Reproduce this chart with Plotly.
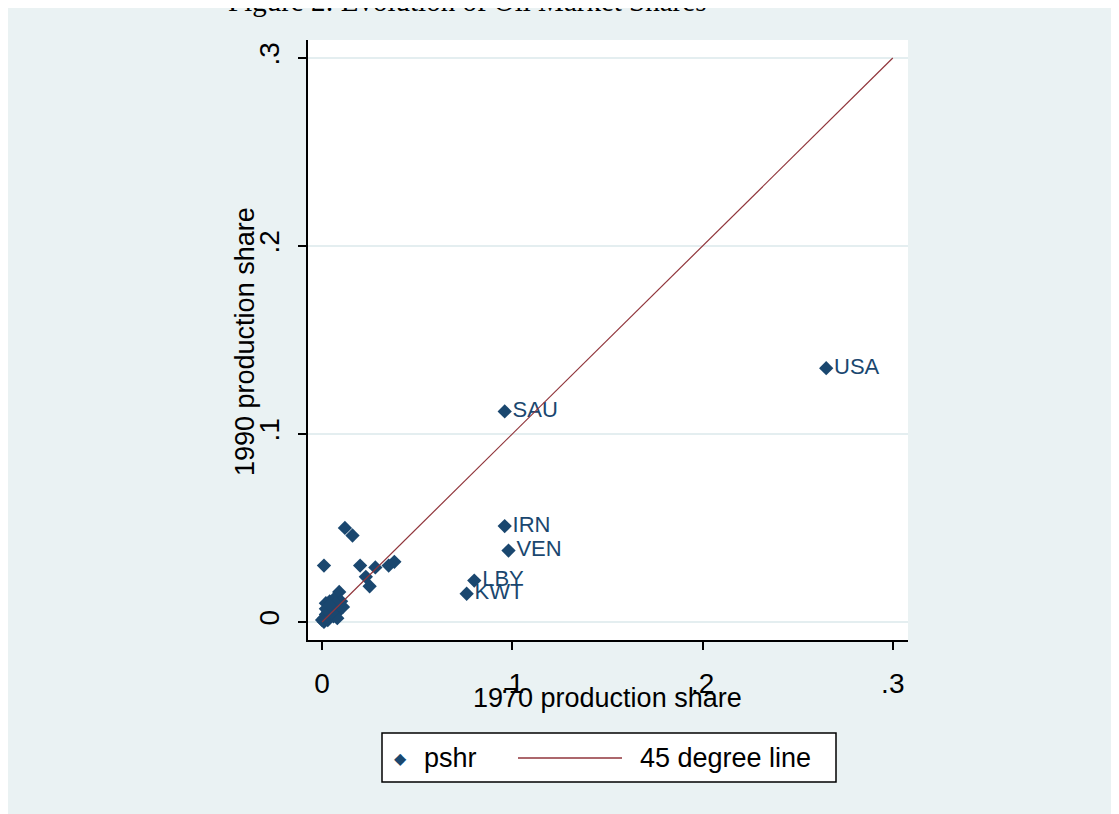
import plotly.graph_objects as go

# 1970 and 1990 production shares
labels = ["USA", "SAU", "IRN", "VEN", "LBY", "KWT"]
share_1970_lab = [0.265, 0.096, 0.096, 0.098, 0.080, 0.076]
share_1990_lab = [0.135, 0.112, 0.051, 0.038, 0.022, 0.015]

share_1970_other = [0.012, 0.016, 0.001, 0.020, 0.023, 0.025, 0.028, 0.035, 0.038,
                    0.009, 0.000, 0.001, 0.002, 0.003, 0.004, 0.005, 0.002, 0.004,
                    0.006, 0.007, 0.008, 0.009, 0.010, 0.001, 0.003, 0.006, 0.008,
                    0.011, 0.005, 0.002, 0.007, 0.004]
share_1990_other = [0.050, 0.046, 0.030, 0.030, 0.024, 0.019, 0.029, 0.030, 0.032,
                    0.016, 0.001, 0.002, 0.004, 0.006, 0.003, 0.008, 0.010, 0.011,
                    0.012, 0.007, 0.005, 0.009, 0.011, 0.000, 0.001, 0.003, 0.002,
                    0.008, 0.005, 0.007, 0.010, 0.009]

line_x = [0, 0.3]
line_y = [0, 0.3]

x_ticks = [0, 0.1, 0.2, 0.3]
x_tick_text = ["0", ".1", ".2", ".3"]
y_ticks = [0, 0.1, 0.2, 0.3]
y_tick_text = ["0", ".1", ".2", ".3"]

NAVY = "#1a476f"
MAROON = "#90353b"
BG = "#eaf2f3"
FONT = "Liberation Sans"

fig = go.Figure()
fig.add_trace(go.Scatter(
    x=share_1970_other, y=share_1990_other, mode="markers",
    marker=dict(symbol="diamond", size=11, color=NAVY, line=dict(width=0)),
    showlegend=False, hoverinfo="skip"))
fig.add_trace(go.Scatter(
    x=share_1970_lab, y=share_1990_lab, mode="markers+text",
    text=labels, textposition="middle right",
    textfont=dict(family=FONT, size=22, color=NAVY),
    marker=dict(symbol="diamond", size=11, color=NAVY, line=dict(width=0)),
    showlegend=False))
fig.add_trace(go.Scatter(
    x=line_x, y=line_y, mode="lines",
    line=dict(color=MAROON, width=1.2), showlegend=False))

# figure is placed by the page at an 8px offset
OFF = 8
W, H = 1105, 814
L, T = 308 - OFF, 40 - OFF
pw, ph = 600, 600
R, B = W - L - pw, H - T - ph

def px(xs):
    return (xs - OFF - L) / pw

def py(ys):
    return (T + ph - (ys - OFF)) / ph

shapes = [
    # legend box
    dict(type="rect", xref="paper", yref="paper", x0=px(382), x1=px(836), y0=py(782), y1=py(733),
         fillcolor="white", line=dict(color="black", width=1.5)),
    dict(type="line", xref="paper", yref="paper", x0=px(518), x1=px(622), y0=py(758), y1=py(758),
         line=dict(color=MAROON, width=1.5)),
]

annotations = [
    dict(text="Figure 2: Evolution of Oil Market Shares", xref="paper", yref="paper",
         x=px(467), y=py(1), xanchor="center", yanchor="middle", showarrow=False,
         font=dict(family="Liberation Serif", size=29, color="black")),
    dict(text="1970 production share", xref="paper", yref="paper",
         x=px(607), y=py(698), xanchor="center", yanchor="middle", showarrow=False,
         font=dict(family=FONT, size=27, color="black")),
    dict(text="1990 production share", xref="paper", yref="paper", textangle=-90,
         x=px(245), y=py(342), xanchor="center", yanchor="middle", showarrow=False,
         font=dict(family=FONT, size=27, color="black")),
    dict(text="\u25C6", xref="paper", yref="paper",
         x=px(400), y=py(758), xanchor="center", yanchor="middle", showarrow=False,
         font=dict(family="DejaVu Sans", size=16, color=NAVY)),
    dict(text="pshr", xref="paper", yref="paper",
         x=px(422), y=py(758), xanchor="left", yanchor="middle", showarrow=False,
         font=dict(family=FONT, size=27, color="black")),
    dict(text="45 degree line", xref="paper", yref="paper",
         x=px(638), y=py(758), xanchor="left", yanchor="middle", showarrow=False,
         font=dict(family=FONT, size=27, color="black")),
]

fig.update_layout(
    width=W, height=H,
    margin=dict(l=L, r=R, t=T, b=B, autoexpand=False),
    paper_bgcolor=BG, plot_bgcolor="white",
    showlegend=False,
    shapes=shapes, annotations=annotations,
    font=dict(family=FONT, size=27, color="black"),
    xaxis=dict(range=[-0.0074, 0.308], tickvals=x_ticks, ticktext=x_tick_text,
               showgrid=False, zeroline=False, showline=True, linecolor="black", linewidth=1.5,
               ticks="outside", ticklen=8, tickwidth=1.5, tickcolor="black",
               tickfont=dict(family=FONT, size=28), ticklabelstandoff=10, automargin=False),
    yaxis=dict(range=[-0.0096, 0.3096], tickvals=y_ticks, ticktext=y_tick_text,
               showgrid=True, gridcolor="#e4eef0", gridwidth=1.5, zeroline=False,
               showline=True, linecolor="black", linewidth=1.5,
               ticks="outside", ticklen=8, tickwidth=1.5, tickcolor="black",
               tickangle=-90, tickfont=dict(family=FONT, size=28), ticklabelstandoff=8,
               automargin=False),
)

fig.write_html("out.html")
